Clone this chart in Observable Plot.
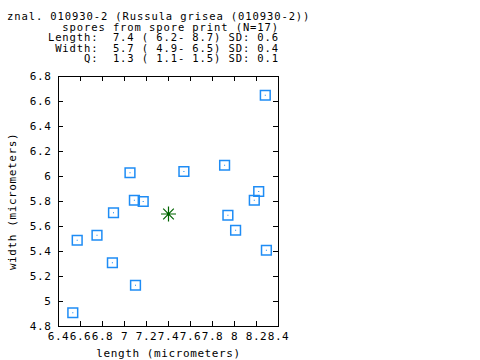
<!DOCTYPE html>
<html>
<head>
<meta charset="utf-8">
<script src="https://cdn.jsdelivr.net/npm/d3@7"></script>
<script src="https://cdn.jsdelivr.net/npm/@observablehq/plot@0.6"></script>
<style>
  html, body { margin: 0; padding: 0; background: white; }
  #wrap { position: relative; width: 480px; height: 360px; overflow: hidden; background: white; }
  #wrap svg { position: absolute; left: 0; top: 0; }
  .ttl { position: absolute; font-family: "DejaVu Sans Mono", monospace; font-size: 10.5px;
         letter-spacing: 0.9px; line-height: 10px; height: 10px; white-space: pre; color: black; }
</style>
</head>
<body>
<div id="wrap"></div>
<script>
// --- data ---
const lengths = [6.53, 6.57, 6.75, 6.89, 6.90, 7.05, 7.09, 7.10, 7.17, 7.54, 7.91, 7.94, 8.01, 8.18, 8.22, 8.29, 8.28];
const widths  = [4.91, 5.49, 5.53, 5.31, 5.71, 6.03, 5.81, 5.13, 5.80, 6.04, 6.09, 5.69, 5.57, 5.81, 5.88, 5.41, 6.65];
const meanLength = [7.4];
const meanWidth = [5.7];
const xTicks = [6.4, 6.6, 6.8, 7, 7.2, 7.4, 7.6, 7.8, 8, 8.2, 8.4];
const yTicks = [4.8, 5, 5.2, 5.4, 5.6, 5.8, 6, 6.2, 6.4, 6.6, 6.8];
const titleLine1 = "znal. 010930-2 (Russula grisea (010930-2))";
const titleLines = [
  "spores from spore print (N=17)",
  "Length:  7.4 ( 6.2- 8.7) SD: 0.6",
  "Width:  5.7 ( 4.9- 6.5) SD: 0.4",
  "Q:  1.3 ( 1.1- 1.5) SD: 0.1"
];
const xLabel = "length (micrometers)";
const yLabel = "width (micrometers)";

const spores = lengths.map((l, i) => ({length: l, width: widths[i]}));
const mean = meanLength.map((l, i) => ({length: l, width: meanWidth[i]}));

const blue = "#1e8cf5";
const green = "#006400";

// 8-armed star symbol
const star8 = {
  draw(context, size) {
    const r = Math.sqrt(size / Math.PI);
    for (let k = 0; k < 4; k++) {
      const a = k * Math.PI / 4;
      const c = Math.cos(a) * r, s = Math.sin(a) * r;
      context.moveTo(-c, -s);
      context.lineTo(c, s);
    }
  }
};

const W = 480, H = 360;
const mL = 58, mR = 202, mT = 76, mB = 34;
const fw = W - mL - mR, fh = H - mT - mB;
const tk = 5;

const chart = Plot.plot({
  width: W, height: H,
  marginLeft: mL, marginRight: mR, marginTop: mT, marginBottom: mB,
  style: {fontFamily: "DejaVu Sans Mono", fontSize: "11px", letterSpacing: "0.6px", background: "white", color: "black"},
  x: {domain: [6.4, 8.4]},
  y: {domain: [4.8, 6.8]},
  marks: [
    Plot.frame({stroke: "black", strokeWidth: 1}),
    Plot.tickX(xTicks, {x: d => d, insetTop: fh - tk, stroke: "black"}),
    Plot.tickX(xTicks, {x: d => d, insetBottom: fh - tk, stroke: "black"}),
    Plot.tickY(yTicks, {y: d => d, insetRight: fw - tk, stroke: "black"}),
    Plot.tickY(yTicks, {y: d => d, insetLeft: fw - tk, stroke: "black"}),
    Plot.axisX({ticks: xTicks, tickSize: 0, tickPadding: 6, tickFormat: d => String(d), label: null}),
    Plot.axisY({ticks: yTicks, tickSize: 0, tickPadding: 7, tickFormat: d => String(d), label: null}),
    Plot.text([xLabel], {text: d => d, frameAnchor: "bottom", textAnchor: "middle", dy: 27, lineAnchor: "middle", fill: "black"}),
    Plot.text([yLabel], {text: d => d, frameAnchor: "left", textAnchor: "middle", dx: -46, rotate: -90, lineAnchor: "middle", fill: "black"}),
    Plot.dot(spores, {x: "length", y: "width", symbol: "square", r: 5.5, stroke: blue, strokeWidth: 1.5, fill: "none"}),
    Plot.dot(spores, {x: "length", y: "width", symbol: "square", r: 0.6, fill: blue, stroke: "none"}),
    Plot.dot(mean, {x: "length", y: "width", symbol: star8, r: 7.5, stroke: green, strokeWidth: 1.2, fill: "none"}),
    Plot.dot(mean, {x: "length", y: "width", r: 1.6, fill: green, stroke: "none"})
  ]
});

const wrap = document.getElementById("wrap");
wrap.appendChild(chart);

function addLine(text, top, opts) {
  const d = document.createElement("div");
  d.className = "ttl";
  d.style.top = top + "px";
  if (opts.left != null) d.style.left = opts.left + "px";
  if (opts.right != null) { d.style.right = opts.right + "px"; d.style.textAlign = "right"; }
  d.textContent = text;
  wrap.appendChild(d);
}
addLine(titleLine1, 11, {left: 7});
titleLines.forEach((t, i) => addLine(t, 21.5 + 10.5 * i, {right: 201}));
</script>
</body>
</html>
